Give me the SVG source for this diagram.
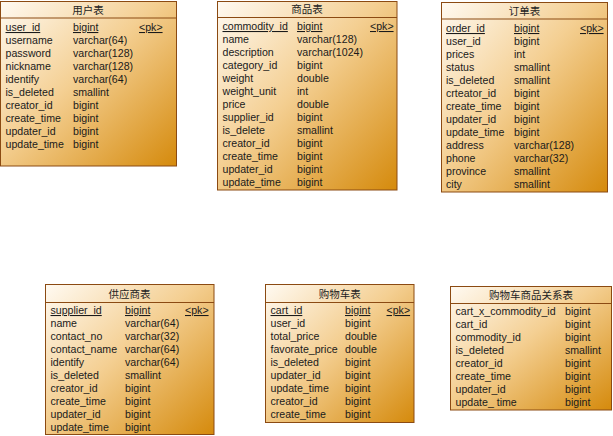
<svg xmlns="http://www.w3.org/2000/svg" width="613" height="436" viewBox="0 0 613 436">
<defs>
<linearGradient id="g" x1="0" y1="0" x2="1" y2="1">
<stop offset="0" stop-color="#fffaf2"/>
<stop offset="0.45" stop-color="#f4cf92"/>
<stop offset="1" stop-color="#d58a0c"/>
</linearGradient>
</defs>
<style>
.box{fill:url(#g);stroke:#8b4a12;stroke-width:1}
.hl{stroke:#8b4a12;stroke-width:1}
text{font-family:"Liberation Sans",Arial,sans-serif;font-size:10.6px;fill:#1a1a1a}
.t{font-family:"Noto Sans CJK SC","Liberation Sans",sans-serif;font-size:10.5px;text-anchor:middle;fill:#222222}
.k{text-decoration:underline}
</style>
<rect width="613" height="436" fill="#ffffff"/>
<g id="connectors"></g>
<g id="user">
<rect class="box" x="0.5" y="1.5" width="176" height="164.5"/>
<line class="hl" x1="0.5" y1="18" x2="176.5" y2="18"/>
<text class="t" x="88" y="13.5">用户表</text>
<text class="k" x="5.5" y="31">user_id</text><text class="k" x="73" y="31">bigint</text><text class="k" x="139" y="31">&lt;pk&gt;</text>
<text x="5.5" y="44">username</text><text x="73" y="44">varchar(64)</text>
<text x="5.5" y="57">password</text><text x="73" y="57">varchar(128)</text>
<text x="5.5" y="70">nickname</text><text x="73" y="70">varchar(128)</text>
<text x="5.5" y="83">identify</text><text x="73" y="83">varchar(64)</text>
<text x="5.5" y="96">is_deleted</text><text x="73" y="96">smallint</text>
<text x="5.5" y="109">creator_id</text><text x="73" y="109">bigint</text>
<text x="5.5" y="122">create_time</text><text x="73" y="122">bigint</text>
<text x="5.5" y="135">updater_id</text><text x="73" y="135">bigint</text>
<text x="5.5" y="148">update_time</text><text x="73" y="148">bigint</text>
</g>
<g id="commodity">
<rect class="box" x="217.5" y="1.5" width="179.5" height="188.5"/>
<line class="hl" x1="217.5" y1="17.5" x2="397" y2="17.5"/>
<text class="t" x="307" y="13">商品表</text>
<text class="k" x="222.5" y="30">commodity_id</text><text class="k" x="297" y="30">bigint</text><text class="k" x="370" y="30">&lt;pk&gt;</text>
<text x="222.5" y="43">name</text><text x="297" y="43">varchar(128)</text>
<text x="222.5" y="56">description</text><text x="297" y="56">varchar(1024)</text>
<text x="222.5" y="69">category_id</text><text x="297" y="69">bigint</text>
<text x="222.5" y="82">weight</text><text x="297" y="82">double</text>
<text x="222.5" y="95">weight_unit</text><text x="297" y="95">int</text>
<text x="222.5" y="108">price</text><text x="297" y="108">double</text>
<text x="222.5" y="121">supplier_id</text><text x="297" y="121">bigint</text>
<text x="222.5" y="134">is_delete</text><text x="297" y="134">smallint</text>
<text x="222.5" y="147">creator_id</text><text x="297" y="147">bigint</text>
<text x="222.5" y="160">create_time</text><text x="297" y="160">bigint</text>
<text x="222.5" y="173">updater_id</text><text x="297" y="173">bigint</text>
<text x="222.5" y="186">update_time</text><text x="297" y="186">bigint</text>
</g>
<g id="order">
<rect class="box" x="441.5" y="2.5" width="166" height="189.5"/>
<line class="hl" x1="441.5" y1="19" x2="607.5" y2="19"/>
<text class="t" x="524.5" y="14.5">订单表</text>
<text class="k" x="446" y="32">order_id</text><text class="k" x="514" y="32">bigint</text><text class="k" x="580" y="32">&lt;pk&gt;</text>
<text x="446" y="45">user_id</text><text x="514" y="45">bigint</text>
<text x="446" y="58">prices</text><text x="514" y="58">int</text>
<text x="446" y="71">status</text><text x="514" y="71">smallint</text>
<text x="446" y="84">is_deleted</text><text x="514" y="84">smallint</text>
<text x="446" y="97">crteator_id</text><text x="514" y="97">bigint</text>
<text x="446" y="110">create_time</text><text x="514" y="110">bigint</text>
<text x="446" y="123">updater_id</text><text x="514" y="123">bigint</text>
<text x="446" y="136">update_time</text><text x="514" y="136">bigint</text>
<text x="446" y="149">address</text><text x="514" y="149">varchar(128)</text>
<text x="446" y="162">phone</text><text x="514" y="162">varchar(32)</text>
<text x="446" y="175">province</text><text x="514" y="175">smallint</text>
<text x="446" y="188">city</text><text x="514" y="188">smallint</text>
</g>
<g id="supplier">
<rect class="box" x="45.5" y="284.5" width="168.5" height="150"/>
<line class="hl" x1="45.5" y1="302.5" x2="214" y2="302.5"/>
<text class="t" x="129.5" y="297.5">供应商表</text>
<text class="k" x="50.5" y="314">supplier_id</text><text class="k" x="125" y="314">bigint</text><text class="k" x="185" y="314">&lt;pk&gt;</text>
<text x="50.5" y="327">name</text><text x="125" y="327">varchar(64)</text>
<text x="50.5" y="340">contact_no</text><text x="125" y="340">varchar(32)</text>
<text x="50.5" y="353">contact_name</text><text x="125" y="353">varchar(64)</text>
<text x="50.5" y="366">identify</text><text x="125" y="366">varchar(64)</text>
<text x="50.5" y="379">is_deleted</text><text x="125" y="379">smallint</text>
<text x="50.5" y="392">creator_id</text><text x="125" y="392">bigint</text>
<text x="50.5" y="405">create_time</text><text x="125" y="405">bigint</text>
<text x="50.5" y="418">updater_id</text><text x="125" y="418">bigint</text>
<text x="50.5" y="431">update_time</text><text x="125" y="431">bigint</text>
</g>
<g id="cart">
<rect class="box" x="265.5" y="284.5" width="148.5" height="138"/>
<line class="hl" x1="265.5" y1="302.5" x2="414" y2="302.5"/>
<text class="t" x="339.7" y="297.5">购物车表</text>
<text class="k" x="270.5" y="314">cart_id</text><text class="k" x="345" y="314">bigint</text><text class="k" x="386.5" y="314">&lt;pk&gt;</text>
<text x="270.5" y="327">user_id</text><text x="345" y="327">bigint</text>
<text x="270.5" y="340">total_price</text><text x="345" y="340">double</text>
<text x="270.5" y="353">favorate_price</text><text x="345" y="353">double</text>
<text x="270.5" y="366">is_deleted</text><text x="345" y="366">bigint</text>
<text x="270.5" y="379">updater_id</text><text x="345" y="379">bigint</text>
<text x="270.5" y="392">update_time</text><text x="345" y="392">bigint</text>
<text x="270.5" y="405">creator_id</text><text x="345" y="405">bigint</text>
<text x="270.5" y="418">create_time</text><text x="345" y="418">bigint</text>
</g>
<g id="cart_commodity">
<rect class="box" x="450.5" y="286.5" width="161" height="123.5"/>
<line class="hl" x1="450.5" y1="303.5" x2="611.5" y2="303.5"/>
<text class="t" x="531" y="299">购物车商品关系表</text>
<text x="455.5" y="315">cart_x_commodity_id</text><text x="565" y="315">bigint</text>
<text x="455.5" y="328">cart_id</text><text x="565" y="328">bigint</text>
<text x="455.5" y="341">commodity_id</text><text x="565" y="341">bigint</text>
<text x="455.5" y="354">is_deleted</text><text x="565" y="354">smallint</text>
<text x="455.5" y="367">creator_id</text><text x="565" y="367">bigint</text>
<text x="455.5" y="380">create_time</text><text x="565" y="380">bigint</text>
<text x="455.5" y="393">updater_id</text><text x="565" y="393">bigint</text>
<text x="455.5" y="406">update_ time</text><text x="565" y="406">bigint</text>
</g>
</svg>
